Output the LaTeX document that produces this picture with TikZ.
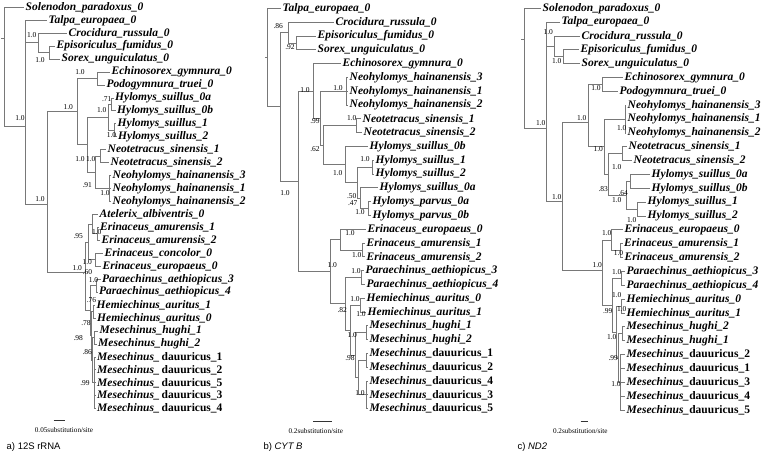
\documentclass[tikz,border=0pt]{standalone}
\usepackage{fontspec}
\setmainfont{Liberation Serif}
\newfontfamily\capfont{Liberation Sans}
\definecolor{brc}{RGB}{120,120,120}
\newcommand\mdauA[1]{Mesechinus\_\,{\upshape dauuricus\_#1}}
\newcommand\mdau[1]{Mesechinus\_{\upshape dauuricus\_#1}}
\tikzset{
  br/.style={draw=brc, line width=0.9pt},
  lf/.style={anchor=west, inner sep=1.5pt, font=\fontsize{11.5}{12}\selectfont\bfseries\itshape},
  sv/.style={inner sep=0pt, font=\fontsize{7.5}{8}\selectfont},
  sbar/.style={draw=black!80, line width=0.9pt},
  stxt/.style={inner sep=0pt, font=\fontsize{7.2}{8}\selectfont},
  captxt/.style={anchor=west, inner sep=0pt, font=\capfont\fontsize{9.5}{10}\selectfont},
  declare function={ya(\i)=7.3+12.95*(\i-1); yb(\i)=8.5+13.8*(\i-1); yc(\i)=8.3+13.85*(\i-1);}
}
\begin{document}
\begin{tikzpicture}[x=1pt,y=-1pt]
\useasboundingbox (0,0) rectangle (766,455);
% ================= Panel a =================
\node[lf] (a1) at (24,{ya(1)}) {Solenodon\_paradoxus\_0};
\node[lf] (a2) at (47,{ya(2)}) {Talpa\_europaea\_0};
\node[lf] (a3) at (67,{ya(3)}) {Crocidura\_russula\_0};
\node[lf] (a4) at (55,{ya(4)}) {Episoriculus\_fumidus\_0};
\node[lf] (a5) at (60,{ya(5)}) {Sorex\_unguiculatus\_0};
\node[lf] (a6) at (110,{ya(6)}) {Echinosorex\_gymnura\_0};
\node[lf] (a7) at (105,{ya(7)}) {Podogymnura\_truei\_0};
\node[lf] (a8) at (113.5,{ya(8)}) {Hylomys\_suillus\_0a};
\node[lf] (a9) at (115.5,{ya(9)}) {Hylomys\_suillus\_0b};
\node[lf] (a10) at (116,{ya(10)}) {Hylomys\_suillus\_1};
\node[lf] (a11) at (116.5,{ya(11)}) {Hylomys\_suillus\_2};
\node[lf] (a12) at (106,{ya(12)}) {Neotetracus\_sinensis\_1};
\node[lf] (a13) at (109,{ya(13)}) {Neotetracus\_sinensis\_2};
\node[lf] (a14) at (111,{ya(14)}) {Neohylomys\_hainanensis\_3};
\node[lf] (a15) at (111,{ya(15)}) {Neohylomys\_hainanensis\_1};
\node[lf] (a16) at (111,{ya(16)}) {Neohylomys\_hainanensis\_2};
\node[lf] (a17) at (98,{ya(17)}) {Atelerix\_albiventris\_0};
\node[lf] (a18) at (98.5,{ya(18)}) {Erinaceus\_amurensis\_1};
\node[lf] (a19) at (100,{ya(19)}) {Erinaceus\_amurensis\_2};
\node[lf] (a20) at (103,{ya(20)}) {Erinaceus\_concolor\_0};
\node[lf] (a21) at (101,{ya(21)}) {Erinaceus\_europaeus\_0};
\node[lf] (a22) at (100.5,{ya(22)}) {Paraechinus\_aethiopicus\_3};
\node[lf] (a23) at (97.5,{ya(23)}) {Paraechinus\_aethiopicus\_4};
\node[lf] (a24) at (95,{ya(24)}) {Hemiechinus\_auritus\_1};
\node[lf] (a25) at (95.5,{ya(25)}) {Hemiechinus\_auritus\_0};
\node[lf] (a26) at (98,{ya(26)}) {Mesechinus\_hughi\_1};
\node[lf] (a27) at (96.5,{ya(27)}) {Mesechinus\_hughi\_2};
\node[lf] (a28) at (95.5,{ya(28)}) {\mdauA{1}};
\node[lf] (a29) at (95.5,{ya(29)}) {\mdauA{2}};
\node[lf] (a30) at (95.5,{ya(30)}) {\mdauA{5}};
\node[lf] (a31) at (95.5,{ya(31)}) {\mdauA{3}};
\node[lf] (a32) at (95.5,{ya(32)}) {\mdauA{4}};
\coordinate (aR) at (4,38);
\coordinate (aB) at (25,126);
\coordinate (aS) at (38,{ya(3.75)});
\coordinate (aS2) at (49,{ya(4.5)});
\coordinate (aC) at (47,204);
\coordinate (aGal) at (77,111);
\coordinate (aEP) at (97,{ya(6.5)});
\coordinate (aHN) at (87,{ya(11.625)});
\coordinate (aHy) at (108,{ya(9.5)});
\coordinate (aH01) at (111.5,{ya(8.5)});
\coordinate (aH12) at (114.5,{ya(10.5)});
\coordinate (aNN) at (95,{ya(13.75)});
\coordinate (aNt) at (100,{ya(12.5)});
\coordinate (aNh) at (109,{ya(15)});
\coordinate (aEri) at (85,272);
\coordinate (aErin) at (88,{ya(19.125)});
\coordinate (aAte) at (92,{ya(17.75)});
\coordinate (aEam) at (97,{ya(18.5)});
\coordinate (aEcc) at (95,{ya(20.5)});
\coordinate (aPHM) at (90,{ya(24.4375)});
\coordinate (aPa) at (96.5,{ya(22.5)});
\coordinate (aHM) at (91.5,{ya(26.375)});
\coordinate (aHem) at (93.5,{ya(24.5)});
\coordinate (aMM) at (92.5,{ya(28.25)});
\coordinate (aMh) at (94.5,{ya(26.5)});
\coordinate (aMd) at (94,{ya(30)});
\draw[br] (aR) -- ++(-3,0);
\foreach \p/\c in {aR/a1,aR/aB,aB/a2,aB/aS,aB/aC,aS/a3,aS/aS2,aS2/a4,aS2/a5,
  aC/aGal,aC/aEri,aGal/aEP,aGal/aHN,aEP/a6,aEP/a7,aHN/aHy,aHN/aNN,aHy/aH01,aHy/aH12,
  aH01/a8,aH01/a9,aH12/a10,aH12/a11,aNN/aNt,aNN/aNh,aNt/a12,aNt/a13,aNh/a14,aNh/a15,aNh/a16,
  aEri/aErin,aEri/aPHM,aErin/aAte,aErin/aEcc,aAte/a17,aAte/aEam,aEam/a18,aEam/a19,aEcc/a20,aEcc/a21,
  aPHM/aPa,aPHM/aHM,aPa/a22,aPa/a23,aHM/aHem,aHM/aMM,aHem/a24,aHem/a25,aMM/aMh,aMM/aMd,
  aMh/a26,aMh/a27,aMd/a28,aMd/a29,aMd/a30,aMd/a31,aMd/a32}
  \draw[br] (\p) |- (\c);
\foreach \t/\x/\y in {1.0/31.7/35,1.0/40/60,1.0/80/71.7,.71/106.7/99.3,1.0/68.3/106.7,1.0/101.7/110,
  1.0/20/118.3,1.0/111.5/135.5,1.0/80/159.3,1.0/90.7/159.3,.91/87.3/185,1.0/105/192.7,1.0/40/199.3,
  .95/78.3/236,1.0/96.7/231.7,1.0/87.3/261.7,.60/87.5/272.3,1.0/77.3/267.7,1.0/93.5/280.2,.76/91.5/300.5,
  .78/86/322.7,.98/78.3/338.3,.86/87.3/351.7,.99/85/382.7}
  \node[sv] at (\x,\y) {\t};
\draw[sbar] (53.5,420) coordinate (asb1) -- (65,420) coordinate (asb2);
\node[stxt] (ast) at (64,430) {0.05substitution/site};
\node[captxt] (acap) at (6.5,447.5) {a) 12S rRNA};
% ================= Panel b =================
\node[lf] (b1) at (281,{yb(1)}) {Talpa\_europaea\_0};
\node[lf] (b2) at (334,{yb(2)}) {Crocidura\_russula\_0};
\node[lf] (b3) at (316,{yb(3)}) {Episoriculus\_fumidus\_0};
\node[lf] (b4) at (316,{yb(4)}) {Sorex\_unguiculatus\_0};
\node[lf] (b5) at (341,{yb(5)}) {Echinosorex\_gymnura\_0};
\node[lf] (b6) at (348,{yb(6)}) {Neohylomys\_hainanensis\_3};
\node[lf] (b7) at (348,{yb(7)}) {Neohylomys\_hainanensis\_1};
\node[lf] (b8) at (348,{yb(8)}) {Neohylomys\_hainanensis\_2};
\node[lf] (b9) at (361,{yb(9)}) {Neotetracus\_sinensis\_1};
\node[lf] (b10) at (362,{yb(10)}) {Neotetracus\_sinensis\_2};
\node[lf] (b11) at (368,{yb(11)}) {Hylomys\_suillus\_0b};
\node[lf] (b12) at (374,{yb(12)}) {Hylomys\_suillus\_1};
\node[lf] (b13) at (374,{yb(13)}) {Hylomys\_suillus\_2};
\node[lf] (b14) at (378,{yb(14)}) {Hylomys\_suillus\_0a};
\node[lf] (b15) at (371,{yb(15)}) {Hylomys\_parvus\_0a};
\node[lf] (b16) at (371,{yb(16)}) {Hylomys\_parvus\_0b};
\node[lf] (b17) at (366,{yb(17)}) {Erinaceus\_europaeus\_0};
\node[lf] (b18) at (365,{yb(18)}) {Erinaceus\_amurensis\_1};
\node[lf] (b19) at (365,{yb(19)}) {Erinaceus\_amurensis\_2};
\node[lf] (b20) at (364,{yb(20)}) {Paraechinus\_aethiopicus\_3};
\node[lf] (b21) at (365,{yb(21)}) {Paraechinus\_aethiopicus\_4};
\node[lf] (b22) at (365,{yb(22)}) {Hemiechinus\_auritus\_0};
\node[lf] (b23) at (366,{yb(23)}) {Hemiechinus\_auritus\_1};
\node[lf] (b24) at (368,{yb(24)}) {Mesechinus\_hughi\_1};
\node[lf] (b25) at (368,{yb(25)}) {Mesechinus\_hughi\_2};
\node[lf] (b26) at (368,{yb(26)}) {\mdau{1}};
\node[lf] (b27) at (368,{yb(27)}) {\mdau{2}};
\node[lf] (b28) at (368,{yb(28)}) {\mdau{4}};
\node[lf] (b29) at (368,{yb(29)}) {\mdau{3}};
\node[lf] (b30) at (368,{yb(30)}) {\mdau{5}};
\coordinate (bR) at (267.7,{yb(4.55)});
\coordinate (bB) at (280,{yb(8.1)});
\coordinate (bS) at (288,{yb(2.75)});
\coordinate (bS2) at (296,{yb(3.5)});
\coordinate (bC) at (298,{yb(13.5)});
\coordinate (bGal) at (313,{yb(6.98)});
\coordinate (bX1) at (320,{yb(8.95)});
\coordinate (bNh) at (346,{yb(7)});
\coordinate (bX2) at (323,{yb(10.9)});
\coordinate (bNt) at (356,{yb(9.5)});
\coordinate (bHH) at (345,{yb(12.3)});
\coordinate (bA) at (357,{yb(13.625)});
\coordinate (bH12) at (372,{yb(12.5)});
\coordinate (bB2) at (360,{yb(14.75)});
\coordinate (bHp) at (368,{yb(15.5)});
\coordinate (bEri) at (330,{yb(20.07)});
\coordinate (bErin) at (340,{yb(17.75)});
\coordinate (bEam) at (362,{yb(18.5)});
\coordinate (bPHM) at (345,{yb(22.4)});
\coordinate (bPa) at (361,{yb(20.5)});
\coordinate (bHM) at (350,{yb(24.3)});
\coordinate (bHem) at (360,{yb(22.5)});
\coordinate (bMMd) at (355,{yb(26.125)});
\coordinate (bMh) at (366,{yb(24.5)});
\coordinate (bMd) at (358,{yb(27.75)});
\coordinate (bMd12) at (366,{yb(26.5)});
\coordinate (bMd3) at (366,{yb(29)});
\draw[br] (bR) -- ++(-3,0);
\foreach \p/\c in {bR/b1,bR/bB,bB/bS,bB/bC,bS/b2,bS/bS2,bS2/b3,bS2/b4,bC/bGal,bC/bEri,
  bGal/b5,bGal/bX1,bX1/bNh,bX1/bX2,bNh/b6,bNh/b7,bNh/b8,bX2/bNt,bX2/bHH,bNt/b9,bNt/b10,
  bHH/b11,bHH/bA,bA/bH12,bA/bB2,bH12/b12,bH12/b13,bB2/b14,bB2/bHp,bHp/b15,bHp/b16,
  bEri/bErin,bEri/bPHM,bErin/b17,bErin/bEam,bEam/b18,bEam/b19,bPHM/bPa,bPHM/bHM,bPa/b20,bPa/b21,
  bHM/bHem,bHM/bMMd,bHem/b22,bHem/b23,bMMd/bMh,bMMd/bMd,bMh/b24,bMh/b25,bMd/bMd12,bMd/bMd3,
  bMd12/b26,bMd12/b27,bMd3/b28,bMd3/b29,bMd3/b30}
  \draw[br] (\p) |- (\c);
\foreach \t/\x/\y in {.86/278.3/26,.92/290/46.7,1.0/305/90,1.0/338/88,.99/315/120.7,1.0/351.7/118.3,
  .62/315/149.3,1.0/337.7/173.3,1.0/365/159.3,.50/351.7/196,.47/352.7/202.7,1.0/360/211.7,1.0/285/193,
  1.0/350/233.3,1.0/356.7/255,1.0/332.3/265,1.0/356/270.7,.82/342.3/310,1.0/355/299,1.0/361/314.3,
  1.0/352.3/335,.98/350/358.3,1.0/360/393.3}
  \node[sv] at (\x,\y) {\t};
\draw[sbar] (313.3,421) coordinate (bsb1) -- (332.3,421) coordinate (bsb2);
\node[stxt] (bst) at (315.8,431) {0.2substitution/site};
\node[captxt] (bcap) at (263.3,447) {b) \textit{CYT B}};
% ================= Panel c =================
\node[lf] (c1) at (541,{yc(1)}) {Solenodon\_paradoxus\_0};
\node[lf] (c2) at (560,{yc(2)}) {Talpa\_europaea\_0};
\node[lf] (c3) at (580,{yc(3)}) {Crocidura\_russula\_0};
\node[lf] (c4) at (579,{yc(4)}) {Episoriculus\_fumidus\_0};
\node[lf] (c5) at (580,{yc(5)}) {Sorex\_unguiculatus\_0};
\node[lf] (c6) at (623,{yc(6)}) {Echinosorex\_gymnura\_0};
\node[lf] (c7) at (618,{yc(7)}) {Podogymnura\_truei\_0};
\node[lf] (c8) at (626,{yc(8)}) {Neohylomys\_hainanensis\_3};
\node[lf] (c9) at (626,{yc(9)}) {Neohylomys\_hainanensis\_1};
\node[lf] (c10) at (626,{yc(10)}) {Neohylomys\_hainanensis\_2};
\node[lf] (c11) at (627,{yc(11)}) {Neotetracus\_sinensis\_1};
\node[lf] (c12) at (632,{yc(12)}) {Neotetracus\_sinensis\_2};
\node[lf] (c13) at (650,{yc(13)}) {Hylomys\_suillus\_0a};
\node[lf] (c14) at (650,{yc(14)}) {Hylomys\_suillus\_0b};
\node[lf] (c15) at (646,{yc(15)}) {Hylomys\_suillus\_1};
\node[lf] (c16) at (646,{yc(16)}) {Hylomys\_suillus\_2};
\node[lf] (c17) at (623,{yc(17)}) {Erinaceus\_europaeus\_0};
\node[lf] (c18) at (622.5,{yc(18)}) {Erinaceus\_amurensis\_1};
\node[lf] (c19) at (623,{yc(19)}) {Erinaceus\_amurensis\_2};
\node[lf] (c20) at (625,{yc(20)}) {Paraechinus\_aethiopicus\_3};
\node[lf] (c21) at (625,{yc(21)}) {Paraechinus\_aethiopicus\_4};
\node[lf] (c22) at (625,{yc(22)}) {Hemiechinus\_auritus\_0};
\node[lf] (c23) at (625,{yc(23)}) {Hemiechinus\_auritus\_1};
\node[lf] (c24) at (625,{yc(24)}) {Mesechinus\_hughi\_2};
\node[lf] (c25) at (625,{yc(25)}) {Mesechinus\_hughi\_1};
\node[lf] (c26) at (625,{yc(26)}) {\mdau{2}};
\node[lf] (c27) at (625,{yc(27)}) {\mdau{1}};
\node[lf] (c28) at (625,{yc(28)}) {\mdau{3}};
\node[lf] (c29) at (625,{yc(29)}) {\mdau{4}};
\node[lf] (c30) at (625,{yc(30)}) {\mdau{5}};
\coordinate (cR) at (524,{yc(3.27)});
\coordinate (cB) at (546,128);
\coordinate (cS) at (554,{yc(3.75)});
\coordinate (cS2) at (563,{yc(4.5)});
\coordinate (cC) at (562,201);
\coordinate (cGal) at (588,122);
\coordinate (cEP) at (602,{yc(6.5)});
\coordinate (cG2) at (604,{yc(11)});
\coordinate (cNh) at (625,{yc(9)});
\coordinate (cG3) at (608,{yc(13)});
\coordinate (cNt) at (622,{yc(11.5)});
\coordinate (cHy) at (626,{yc(14.5)});
\coordinate (cH01) at (630,{yc(13.5)});
\coordinate (cH12) at (637,{yc(15.5)});
\coordinate (cEri) at (602,270);
\coordinate (cErin) at (611,{yc(17.75)});
\coordinate (cEam) at (620.5,{yc(18.5)});
\coordinate (cPHM) at (612,{yc(22.44)});
\coordinate (cPa) at (621,{yc(20.5)});
\coordinate (cHM) at (616,{yc(24.375)});
\coordinate (cHem) at (621,{yc(22.5)});
\coordinate (cMM) at (618,{yc(26.25)});
\coordinate (cMh) at (622,{yc(24.5)});
\coordinate (cMd) at (620,{yc(28)});
\draw[br] (cR) -- ++(-3,0);
\foreach \p/\c in {cR/c1,cR/cB,cB/c2,cB/cS,cB/cC,cS/c3,cS/cS2,cS2/c4,cS2/c5,
  cC/cGal,cC/cEri,cGal/cEP,cGal/cG2,cEP/c6,cEP/c7,cG2/cNh,cG2/cG3,cNh/c8,cNh/c9,cNh/c10,
  cG3/cNt,cG3/cHy,cNt/c11,cNt/c12,cHy/cH01,cHy/cH12,cH01/c13,cH01/c14,cH12/c15,cH12/c16,
  cEri/cErin,cEri/cPHM,cErin/c17,cErin/cEam,cEam/c18,cEam/c19,cPHM/cPa,cPHM/cHM,cPa/c20,cPa/c21,
  cHM/cHem,cHM/cMM,cHem/c22,cHem/c23,cMM/cMh,cMM/cMd,cMh/c24,cMh/c25,
  cMd/c26,cMd/c27,cMd/c28,cMd/c29,cMd/c30}
  \draw[br] (\p) |- (\c);
\foreach \t/\x/\y in {1.0/548.3/31.7,1.0/556.7/61,1.0/540.7/123.3,1.0/581.7/118.3,1.0/596/88.3,
  1.0/621.7/128.3,1.0/598.3/149.3,1.0/616.7/166.7,.83/603.3/189.3,.64/623.3/193.3,1.0/616.7/200,
  1.0/631.7/220,1.0/556.7/196.7,1.0/606.7/233.3,1.0/618.5/253.3,1.0/597.3/265,1.0/616.7/271.7,
  1.0/616.7/295,.99/607.7/310.7,1.0/621.7/309.3,1.0/611.7/336.7,.99/613.3/358.3,1.0/616/384}
  \node[sv] at (\x,\y) {\t};
\draw[sbar] (580.7,421) coordinate (csb1) -- (588.3,421) coordinate (csb2);
\node[stxt] (cst) at (580.3,431) {0.2substitution/site};
\node[captxt] (ccap) at (517.3,447) {c) \textit{ND2}};
\end{tikzpicture}
\end{document}
